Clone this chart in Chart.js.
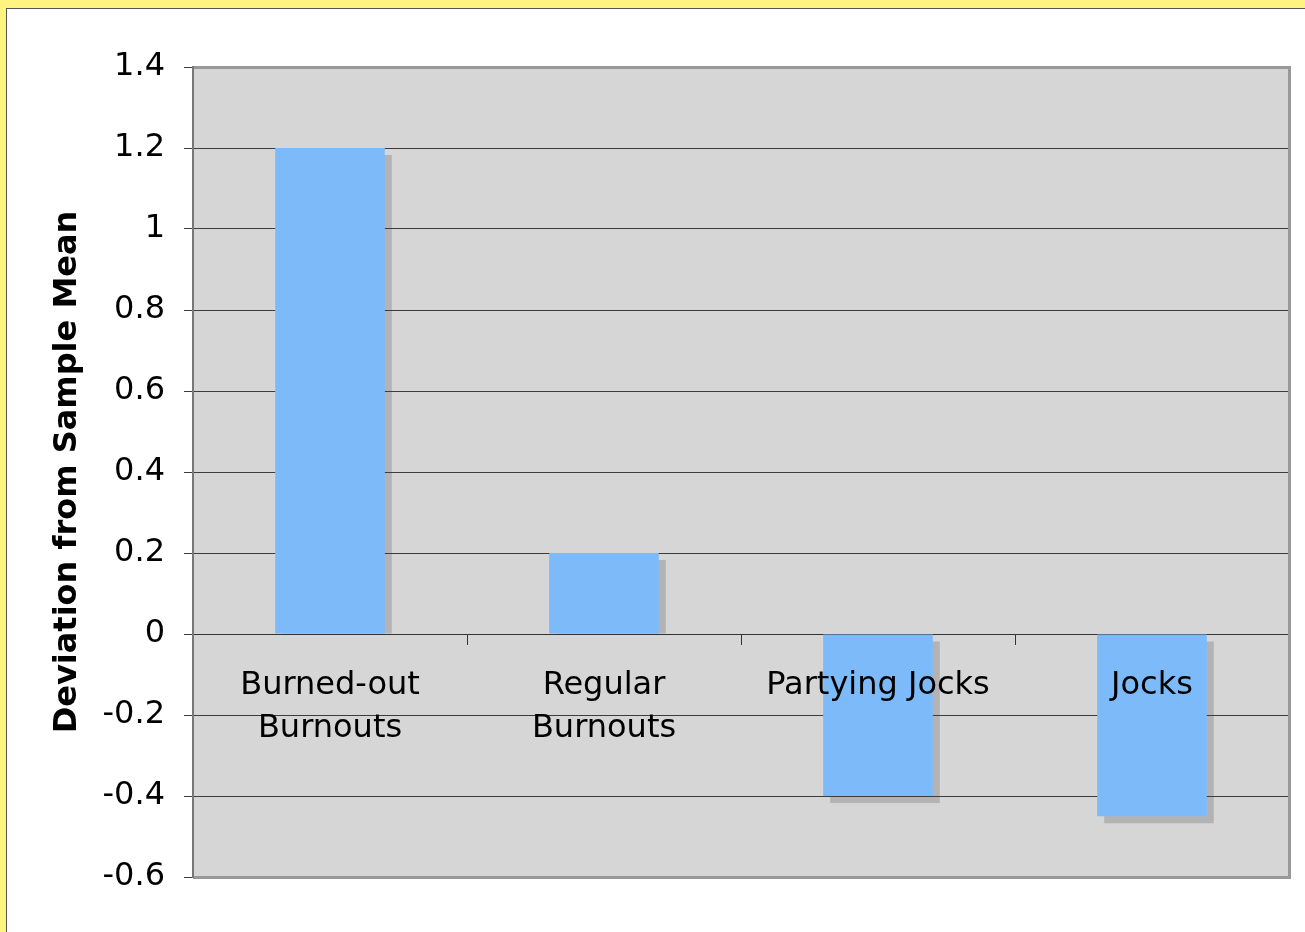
<!DOCTYPE html>
<html>
<head>
<meta charset="utf-8">
<script src="https://cdn.jsdelivr.net/npm/chart.js@4.4.1/dist/chart.umd.min.js"></script>
<style>
  body { margin: 0; background: #fff480; }
  #panel { position: absolute; left: 6px; top: 8px; right: 0; bottom: 0; background: #fff;
           border-left: 1px solid #555; border-top: 1px solid #555; }
  #chart { position: absolute; left: 0; top: 0; }
</style>
</head>
<body>
<div id="panel"></div>
<canvas id="chart" width="1305" height="932"></canvas>
<script>
// data
const categories = [['Burned-out', 'Burnouts'], ['Regular', 'Burnouts'], 'Partying Jocks', 'Jocks'];
const deviations = [1.2, 0.2, -0.4, -0.45];
const yTicks = [-0.6, -0.4, -0.2, 0, 0.2, 0.4, 0.6, 0.8, 1, 1.2, 1.4];

Chart.defaults.font.family = 'DejaVu Sans';
Chart.defaults.color = '#000';

// plot background, bar shadows and the grey frame
const plotFrame = {
  id: 'plotFrame',
  beforeDraw(chart) {
    const ctx = chart.ctx;
    const a = chart.chartArea;
    ctx.save();
    ctx.fillStyle = '#d6d6d6';
    ctx.fillRect(a.left, a.top, a.right - a.left, a.bottom - a.top);
    ctx.fillStyle = '#b3b3b3';
    const off = 7;
    chart.getDatasetMeta(0).data.forEach(el => {
      const p = el.getProps(['x', 'y', 'base', 'width'], true);
      const left = p.x - p.width / 2;
      if (p.y < p.base) {
        ctx.fillRect(left + off, p.y + off, p.width, p.base - p.y - off);
      } else {
        ctx.fillRect(left + off, p.base + off, p.width, p.y - p.base);
      }
    });
    ctx.restore();
  },
  afterDraw(chart) {
    const ctx = chart.ctx;
    const a = chart.chartArea;
    const w = a.right - a.left, h = a.bottom - a.top;
    ctx.save();
    ctx.fillStyle = '#999';
    ctx.fillRect(a.left, a.top - 1, w + 2, 3);
    ctx.fillRect(a.right - 1, a.top - 1, 3, h + 3);
    ctx.fillRect(a.left, a.bottom - 1, w + 2, 3);
    ctx.fillStyle = '#777';
    ctx.fillRect(a.left - 1, a.top - 1, 2, h + 2);
    ctx.restore();
  }
};

new Chart('chart', {
  type: 'bar',
  data: {
    labels: categories,
    datasets: [{
      data: deviations,
      backgroundColor: '#7cbafa',
      borderWidth: 0,
      barPercentage: 0.4,
      categoryPercentage: 1
    }]
  },
  options: {
    responsive: false,
    animation: false,
    devicePixelRatio: 1,
    layout: { padding: { left: 0, top: 67, right: 16, bottom: 55 } },
    plugins: { legend: { display: false }, tooltip: { enabled: false } },
    scales: {
      x: {
        position: { y: 0 },
        offset: true,
        grid: { offset: true, drawOnChartArea: false, drawTicks: true, tickLength: 10, color: '#333' },
        border: { display: true, color: '#333', width: 1 },
        ticks: { z: 1, font: { size: 32, lineHeight: 1.35 }, padding: 20, maxRotation: 0, autoSkip: false }
      },
      y: {
        min: -0.6,
        max: 1.4,
        afterBuildTicks: s => { s.ticks = yTicks.map(v => ({ value: v })); },
        afterFit: s => { s.width = 193; },
        ticks: { font: { size: 32 }, padding: 19, callback: v => String(+v.toFixed(1)) },
        grid: { color: '#3c3c3c', lineWidth: 1, tickLength: 9 },
        border: { display: false },
        title: {
          display: true,
          text: 'Deviation from Sample Mean',
          font: { size: 32, weight: 'bold' },
          padding: { top: 48, bottom: 0 }
        }
      }
    }
  },
  plugins: [plotFrame]
});
</script>
</body>
</html>
